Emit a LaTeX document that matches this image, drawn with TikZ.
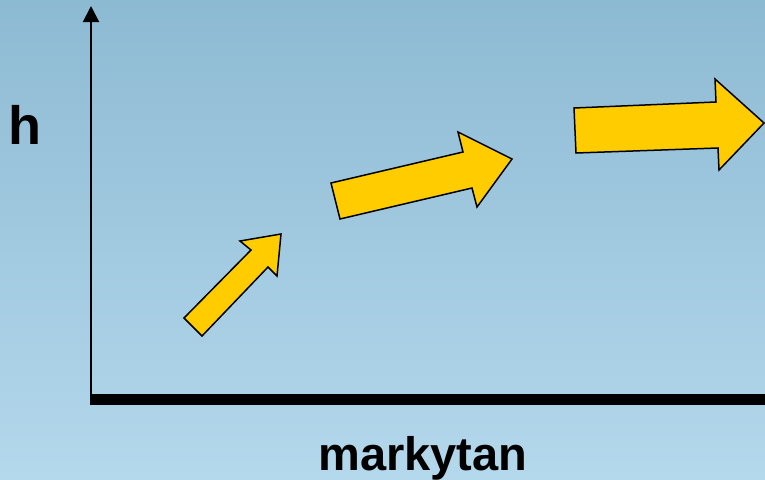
\documentclass[tikz,border=0pt]{standalone}
\usepackage{fontspec}
\setmainfont{Liberation Sans}
\usetikzlibrary{arrows.meta}
\definecolor{bgtop}{RGB}{141,186,211}
\definecolor{bgbot}{RGB}{180,216,236}
\definecolor{arrowfill}{RGB}{255,204,0}
\begin{document}
\begin{tikzpicture}[x=1pt,y=-1pt,
  fatarrow/.style={fill=arrowfill,draw=black,line width=1.5pt,line join=miter},
  lbl/.style={font=\bfseries,inner sep=0pt,anchor=base}]
\shade[top color=bgtop,bottom color=bgbot] (0,0) rectangle (765,479);
\useasboundingbox (0,0) rectangle (765,479);
% axes
\coordinate (origin) at (91,404);
\coordinate (ytop) at (91,6);
\coordinate (xend) at (765,399.5);
\coordinate (xstart) at (90,399.5);
\draw[line width=2pt,-{Triangle[length=16pt,width=16pt]}] (origin) -- (ytop);
\draw[line width=11pt] (xstart) -- (xend);
% arrows
\draw[fatarrow] (184,318) -- (251,250) -- (240,241) -- (281,234) -- (277,276) -- (268,267) -- (202,336) -- cycle;
\draw[fatarrow] (331,183) -- (463,152) -- (458,132) -- (512,159) -- (477,207) -- (472,188) -- (340,219) -- cycle;
\draw[fatarrow] (574,108) -- (716,102) -- (715,79) -- (764,123) -- (719,170) -- (718,148) -- (576,153) -- cycle;
% labels
\node[lbl,font=\fontsize{54}{54}\selectfont\bfseries] (hlabel) at (25,144) {h};
\node[lbl,font=\fontsize{47}{47}\selectfont\bfseries] (xlabel) at (423,470) {markytan};
\end{tikzpicture}
\end{document}
